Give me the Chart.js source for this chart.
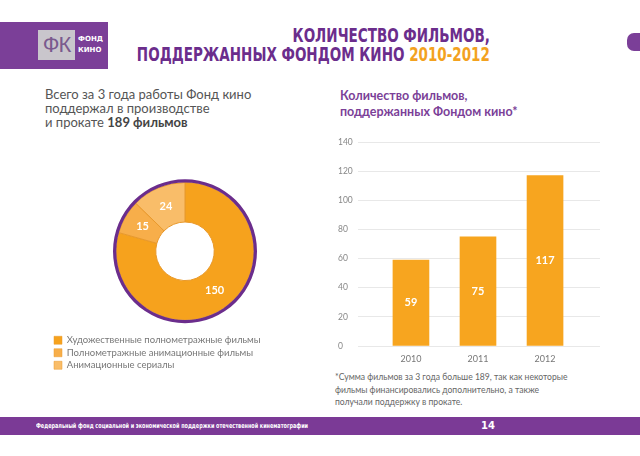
<!DOCTYPE html>
<html>
<head>
<meta charset="utf-8">
<script src="https://cdn.jsdelivr.net/npm/chart.js@4"></script>
<style>
  body { margin: 0; width: 640px; height: 456px; background: #fff; position: relative; overflow: hidden; font-family: Lato, "DejaVu Sans", sans-serif; }
  .abs { position: absolute; }
  #logo { left: 0; top: 22px; width: 108px; height: 47px; background: #7b3f98; }
  #logoBox { left: 38px; top: 8px; width: 37px; height: 30px; background: #c9c6cc; color: #7a5a8e; font: 22px/30px "Liberation Sans", sans-serif; text-align: center; letter-spacing: -1px; }
  #logoTxt { left: 78px; top: 12px; color: #fff; font: bold 7px/11px "DejaVu Sans", sans-serif; }
  #title { right: 150px; top: 26px; text-align: right; color: #6b2d8c; font: bold 19px/19px "Liberation Sans Narrow", "DejaVu Sans Condensed", sans-serif; transform: scaleX(0.79); transform-origin: right top; white-space: nowrap; }
  #title span { color: #f3a21f; }
  #tab { left: 627px; top: 33px; width: 20px; height: 18px; background: #7b3f98; border-radius: 7px; }
  #intro { left: 45px; top: 87px; color: #555; font-size: 13px; line-height: 14px; }
  #intro b { color: #444; }
  #sub { left: 340px; top: 88px; color: #7b3f98; font: bold 12.5px/16px Lato, sans-serif; }
  #note { left: 335px; top: 371px; color: #666; font-size: 8.6px; line-height: 12.5px; }
  #foot { left: 0; top: 417px; width: 640px; height: 18px; background: #7b3a96; color: #fff; }
  #foot .l { left: 36px; top: 4px; font: bold 7px/10px "DejaVu Sans Condensed", sans-serif; transform: scaleX(0.78); transform-origin: left top; white-space: nowrap; }
  #foot .r { left: 481px; top: 3px; font: bold 10px/12px "DejaVu Sans", sans-serif; }
  #pie { left: 51px; top: 170px; }
  #bars { left: 338px; top: 132px; }
</style>
</head>
<body>
<div id="logo" class="abs">
  <div id="logoBox" class="abs">ФК</div>
  <div id="logoTxt" class="abs">ФОНД<br>КИНО</div>
</div>
<div id="title" class="abs">КОЛИЧЕСТВО ФИЛЬМОВ,<br>ПОДДЕРЖАННЫХ ФОНДОМ КИНО <span>2010-2012</span></div>
<div id="tab" class="abs"></div>
<div id="intro" class="abs">Всего за 3 года работы Фонд кино<br>поддержал в производстве<br>и прокате <b>189 фильмов</b></div>
<div id="sub" class="abs">Количество фильмов,<br>поддержанных Фондом кино*</div>
<div id="note" class="abs">*Сумма фильмов за 3 года больше 189, так как некоторые<br>фильмы финансировались дополнительно, а также<br>получали поддержку в прокате.</div>
<div id="foot" class="abs">
  <div class="abs l">Федеральный фонд социальной и экономической поддержки отечественной кинематографии</div>
  <div class="abs r">14</div>
</div>
<canvas id="pie" class="abs" width="268" height="210"></canvas>
<canvas id="bars" class="abs" width="262" height="241"></canvas>

<script>
// структура фильмов (кольцо)
const pieLabels = ["Художественные полнометражные фильмы", "Полнометражные анимационные фильмы", "Анимационные сериалы"];
const pieValues = [150, 15, 24];
const pieColors = ["#f6a21d", "#f7ae4a", "#f9bd69"];

// фильмы по годам
const years = ["2010", "2011", "2012"];
const filmsPerYear = [59, 75, 117];
const yTicks = [0, 20, 40, 60, 80, 100, 120, 140];

Chart.defaults.font.family = "Lato, 'DejaVu Sans', sans-serif";
Chart.defaults.animation = false;

// белые подписи внутри сегментов / столбцов
const valueLabels = {
  id: "valueLabels",
  afterDatasetsDraw(chart, args, opts) {
    const ctx = chart.ctx;
    const meta = chart.getDatasetMeta(opts.dataset);
    ctx.save();
    ctx.fillStyle = "#fff";
    ctx.font = "bold " + opts.size + "px Lato, sans-serif";
    ctx.textAlign = "center";
    ctx.textBaseline = "middle";
    meta.data.forEach((el, i) => {
      const v = chart.data.datasets[opts.dataset].data[i];
      let x, y;
      if (chart.config.type === "bar") {
        x = el.x; y = (el.y + el.base) / 2;
      } else {
        const p = el.tooltipPosition();
        x = p.x; y = p.y;
      }
      ctx.fillText(typeof v === "object" ? v.y : v, x, y);
    });
    ctx.restore();
  }
};

new Chart(document.getElementById("pie"), {
  type: "doughnut",
  data: {
    labels: pieLabels,
    datasets: [
      { data: [1], backgroundColor: "#6b2d8c", borderWidth: 0, weight: 1 },
      { data: pieValues, backgroundColor: pieColors, borderColor: "#e8992c", borderWidth: 1, weight: 12 }
    ]
  },
  options: {
    responsive: false,
    radius: 72,
    cutout: 33,
    plugins: {
      tooltip: { enabled: false },
      valueLabels: { dataset: 1, size: 11 },
      legend: {
        position: "bottom",
        align: "start",
        labels: {
          boxWidth: 8,
          boxHeight: 8,
          padding: 3,
          color: "#777",
          font: { size: 9.5 },
          generateLabels: (chart) => chart.data.labels.map((t, i) => ({
            text: t, fillStyle: pieColors[i], strokeStyle: "#e8992c", lineWidth: 0.5, fontColor: "#777", hidden: false, index: i
          }))
        }
      }
    }
  },
  plugins: [valueLabels]
});

new Chart(document.getElementById("bars"), {
  type: "bar",
  data: {
    datasets: [{
      data: years.map((y, i) => ({ x: +y, y: filmsPerYear[i] })),
      backgroundColor: "#f7a51f",
      barThickness: 36
    }]
  },
  options: {
    responsive: false,
    layout: { padding: { top: 10 } },
    scales: {
      x: {
        type: "linear",
        min: 2009.21,
        max: 2012.82,
        offset: false,
        grid: { display: false, offset: false, drawTicks: false },
        border: { display: false },
        afterBuildTicks: (s) => { s.ticks = years.map((y) => ({ value: +y })); },
        afterFit: (s) => { s.height = 27; },
        ticks: { color: "#777", font: { size: 9 }, padding: 8, callback: (v) => String(v) }
      },
      y: {
        min: 0,
        max: 140,
        afterBuildTicks: (s) => { s.ticks = yTicks.map((v) => ({ value: v })); },
        afterFit: (s) => { s.width = 20; },
        grid: { color: "#e8e8e8", drawTicks: false },
        border: { display: false },
        ticks: { color: "#888", font: { size: 8.5 }, crossAlign: "far", padding: 0 }
      }
    },
    plugins: {
      legend: { display: false },
      tooltip: { enabled: false },
      valueLabels: { dataset: 0, size: 11 }
    }
  },
  plugins: [valueLabels]
});
</script>
</body>
</html>
